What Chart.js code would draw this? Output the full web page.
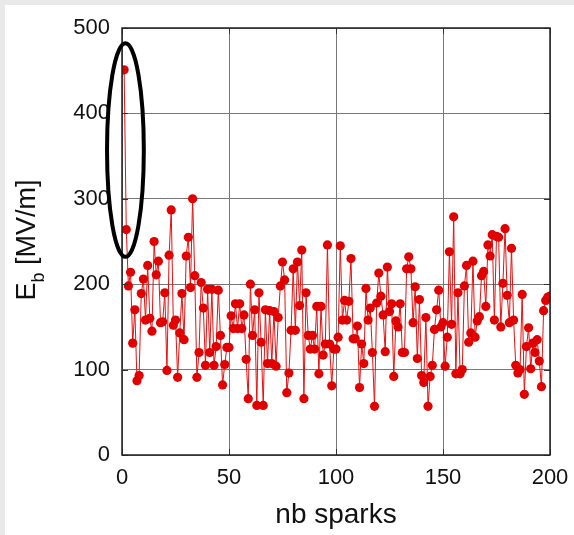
<!DOCTYPE html>
<html>
<head>
<meta charset="utf-8">
<script src="https://cdn.jsdelivr.net/npm/chart.js@4/dist/chart.umd.min.js"></script>
<style>
  body { margin: 0; background: #fff; }
  canvas { display: block; }
</style>
</head>
<body>
<canvas id="sparks" width="574" height="535"></canvas>
<script>
// breakdown field after each spark, MV/m
var fieldEb = [
  451, 264, 198, 214, 131, 170, 87, 93, 189, 206,
  158, 222, 160, 145, 250, 211, 227, 155, 156, 190,
  99, 234, 287, 152, 158, 91, 143, 189, 135, 233,
  255, 196, 300, 210, 91, 120, 202, 172, 105, 194,
  120, 194, 105, 127, 193, 140, 82, 106, 126, 126,
  163, 148, 177, 148, 177, 148, 164, 112, 66, 200,
  140, 170, 58, 190, 132, 58, 170, 107, 169, 107,
  168, 104, 161, 198, 226, 205, 73, 96, 146, 218,
  146, 226, 175, 240, 66, 190, 140, 124, 140, 124,
  174, 95, 174, 117, 130, 246, 130, 81, 124, 124,
  138, 245, 158, 181, 158, 180, 230, 136, 136, 151,
  79, 130, 107, 195, 158, 172, 120, 57, 178, 213,
  186, 164, 121, 220, 168, 177, 92, 157, 150, 177,
  120, 120, 218, 232, 218, 155, 197, 113, 182, 93,
  85, 161, 57, 92, 105, 147, 170, 193, 150, 155,
  104, 138, 238, 153, 279, 95, 190, 95, 100, 198,
  222, 132, 143, 227, 138, 157, 162, 210, 215, 174,
  246, 233, 258, 158, 256, 255, 150, 201, 265, 187,
  155, 242, 158, 105, 96, 100, 188, 71, 127, 149,
  101, 131, 120, 135, 110, 80, 169, 181, 185, 186
];
var sparkNo = fieldEb.map(function (v, i) { return i + 1; });
var xTicks = [0, 50, 100, 150, 200];
var yTicks = [0, 100, 200, 300, 400, 500];

// ellipse around the first sparks (data units)
var ring = { x: 1.6, y: 357, rx: 8.6, ry: 125 };

var FONT = '"Liberation Sans", Arial, sans-serif';

var framePlugin = {
  id: 'frame',
  beforeDraw: function (chart) {
    var c = chart.ctx;
    c.save();
    c.fillStyle = '#fff';
    c.fillRect(0, 0, chart.width, chart.height);
    c.fillStyle = '#e9e9e9';
    c.fillRect(0, 0, chart.width, 5);
    c.fillRect(0, 0, 5, chart.height);
    c.restore();
  },
  afterDatasetsDraw: function (chart) {
    var c = chart.ctx, a = chart.chartArea;
    var xs = chart.scales.x, ys = chart.scales.y;
    c.save();
    // small inward ticks
    c.strokeStyle = '#333';
    c.lineWidth = 1;
    c.beginPath();
    yTicks.forEach(function (t) {
      var py = Math.round(ys.getPixelForValue(t)) + 0.5;
      c.moveTo(a.left, py); c.lineTo(a.left + 6, py);
      c.moveTo(a.right, py); c.lineTo(a.right - 6, py);
    });
    xTicks.forEach(function (t) {
      var px = Math.round(xs.getPixelForValue(t)) + 0.5;
      c.moveTo(px, a.bottom); c.lineTo(px, a.bottom - 6);
      c.moveTo(px, a.top); c.lineTo(px, a.top + 6);
    });
    c.stroke();
    // box
    c.strokeStyle = '#222';
    c.lineWidth = 1.5;
    c.strokeRect(a.left, a.top, a.right - a.left, a.bottom - a.top);
    // ellipse
    var cx = xs.getPixelForValue(ring.x), cy = ys.getPixelForValue(ring.y);
    var rx = xs.getPixelForValue(ring.x + ring.rx) - cx;
    var ry = cy - ys.getPixelForValue(ring.y + ring.ry);
    c.strokeStyle = '#000';
    c.lineWidth = 4;
    c.beginPath();
    c.ellipse(cx, cy, rx, ry, 0, 0, Math.PI * 2);
    c.stroke();
    // y title with subscript
    c.fillStyle = '#111';
    c.translate(28, 240);
    c.rotate(-Math.PI / 2);
    c.textBaseline = 'middle';
    var big = '27px ' + FONT, small = '18px ' + FONT;
    c.font = big;
    var wE = c.measureText('E').width, wR = c.measureText(' [MV/m]').width;
    c.font = small;
    var wb = c.measureText('b').width;
    var x0 = -(wE + wb + wR) / 2;
    c.font = big;
    c.textAlign = 'left';
    c.fillText('E', x0, 0);
    c.font = small;
    c.fillText('b', x0 + wE, 11);
    c.font = big;
    c.fillText(' [MV/m]', x0 + wE + wb, 0);
    c.restore();
  }
};

new Chart(document.getElementById('sparks'), {
  type: 'line',
  data: {
    datasets: [{
      data: fieldEb.map(function (v, i) { return { x: sparkNo[i], y: v }; }),
      borderColor: '#e81010',
      backgroundColor: '#e00000',
      borderWidth: 1,
      pointRadius: 4.6,
      pointBorderWidth: 0,
      pointBackgroundColor: '#e00000',
      tension: 0
    }]
  },
  options: {
    responsive: false,
    animation: false,
    devicePixelRatio: 1,
    layout: { padding: { top: 28, right: 24, left: 0, bottom: 0 } },
    plugins: { legend: { display: false }, tooltip: { enabled: false } },
    scales: {
      x: {
        type: 'linear',
        min: 0, max: 200,
        afterFit: function (s) { s.height = 80; s.paddingLeft = 0; s.paddingRight = 0; },
        afterBuildTicks: function (s) { s.ticks = xTicks.map(function (v) { return { value: v }; }); },
        border: { display: false },
        grid: { color: '#777', lineWidth: 1, borderDash: [1, 2], drawTicks: false },
        ticks: { color: '#111', padding: 10, font: { family: FONT, size: 22 } },
        title: { display: true, text: 'nb sparks', color: '#111', padding: { top: 0, bottom: 3 }, font: { family: FONT, size: 28 } }
      },
      y: {
        min: 0, max: 500,
        afterFit: function (s) { s.width = 122; s.paddingTop = 0; s.paddingBottom = 0; },
        afterBuildTicks: function (s) { s.ticks = yTicks.map(function (v) { return { value: v }; }); },
        border: { display: false },
        grid: { color: '#777', lineWidth: 1, borderDash: [1, 2], drawTicks: false },
        ticks: { color: '#111', padding: 12, font: { family: FONT, size: 22 } }
      }
    }
  },
  plugins: [framePlugin]
});
</script>
</body>
</html>
